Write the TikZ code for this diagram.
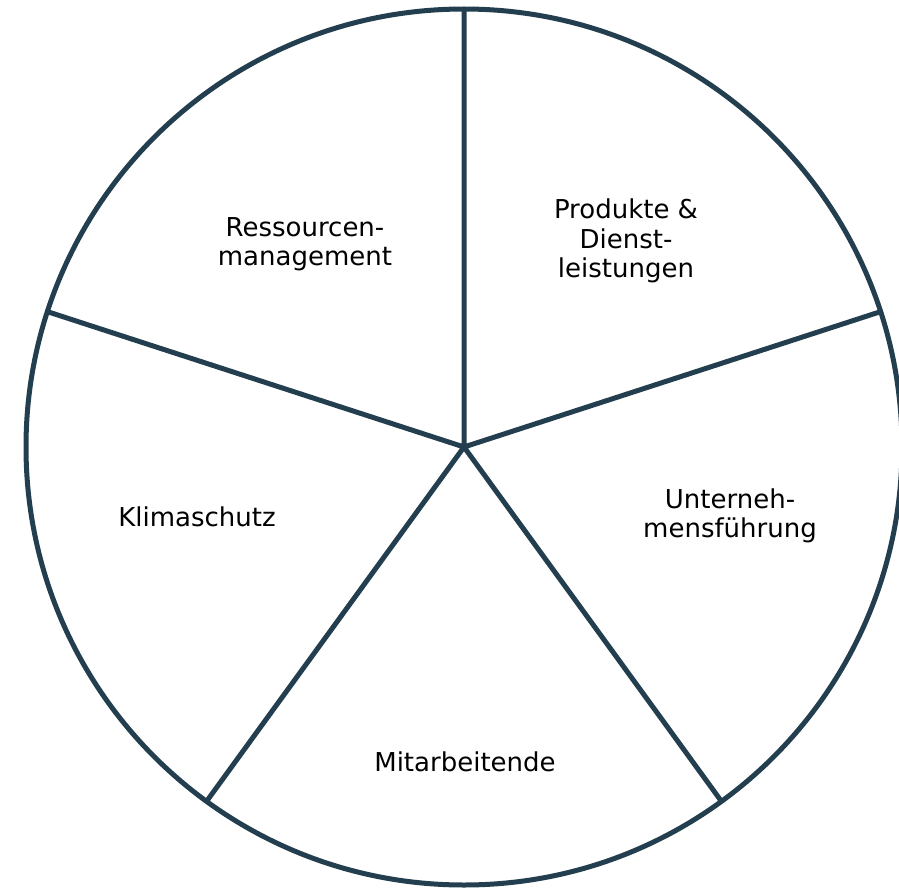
\documentclass[tikz,border=0pt]{standalone}
\usepackage{fontspec}
\setmainfont{DejaVu Sans}
\usetikzlibrary{calc}
\definecolor{ring}{RGB}{35,63,79}
\begin{document}
\begin{tikzpicture}[x=1pt,y=-1pt,
  seg/.style={draw=ring,line width=5pt},
  lbl/.style={align=center,font=\fontsize{26}{29.5}\selectfont,text=black,inner sep=0pt}]
\useasboundingbox[fill=white] (0,0) rectangle (899,888);
\coordinate (c) at (464,447);
\draw[seg] (c) circle[radius=438];
\foreach \a/\n in {-90/p1,-18/p2,54/p3,126/p4,198/p5}
  \coordinate (\n) at ($(c)+(\a:438)$);
\draw[seg,line join=round] (c) -- (p1) (c) -- (p2) (c) -- (p3) (c) -- (p4) (c) -- (p5);
\node[lbl] (res) at (305,244) {Ressourcen-\\management};
\node[lbl] (pro) at (626,241) {Produkte \&\\Dienst-\\leistungen};
\node[lbl] (unt) at (730,516) {Unterneh-\\mensführung};
\node[lbl] (kli) at (197,517) {Klimaschutz};
\node[lbl] (mit) at (465,762) {Mitarbeitende};
\end{tikzpicture}
\end{document}
